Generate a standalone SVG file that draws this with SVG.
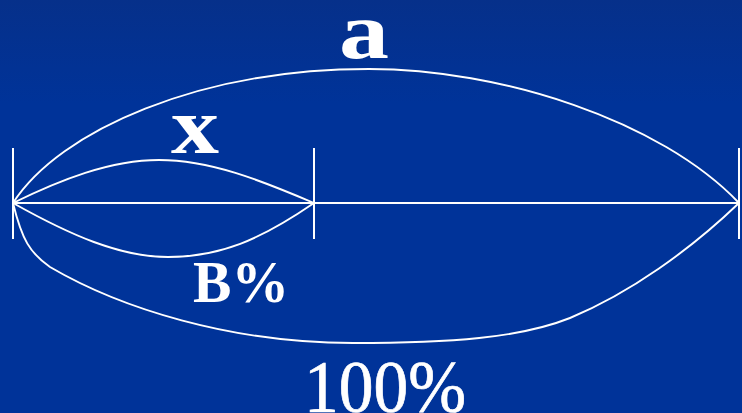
<svg xmlns="http://www.w3.org/2000/svg" width="742" height="413" viewBox="0 0 742 413">
  <defs>
    <linearGradient id="bg" x1="0" y1="0" x2="0" y2="1">
      <stop offset="0" stop-color="#06308a"/>
      <stop offset="0.25" stop-color="#003399"/>
      <stop offset="1" stop-color="#003399"/>
    </linearGradient>
    <style>
      .ln { fill: none; stroke: #ffffff; stroke-width: 1.9; }
      .tk { fill: none; stroke: #ffffff; stroke-width: 2; }
      .lb { fill: #ffffff; font-family: "Liberation Serif", "Times New Roman", serif; text-anchor: middle; }
    </style>
  </defs>
  <rect x="0" y="0" width="742" height="413" fill="url(#bg)"/>
  <g id="connectors">
    <path class="ln" d="M13,203 L739,203"/>
    <path class="ln" d="M13,203 C60,130 200,69 369,69 C500,69 660,120 739,203"/>
    <path class="ln" d="M13,203 C22,240 30,253 50,267 C120,308 230,343 353,343 C450,343 520,338 570,318 C630,293 690,250 739,203"/>
    <path class="ln" d="M13,203 C60,180 110,160 159,160 C210,160 260,180 314,203"/>
    <path class="ln" d="M13,203 C70,235 120,257 168,257 C220,257 260,240 314,203"/>
  </g>
  <g id="ticks">
    <line class="tk" x1="13" y1="148" x2="13" y2="239"/>
    <line class="tk" x1="314" y1="148" x2="314" y2="239"/>
    <line class="tk" x1="739" y1="148" x2="739" y2="239"/>
  </g>
  <g id="label-a"><text class="lb" x="364" y="58" font-size="80" font-weight="bold" textLength="50" lengthAdjust="spacingAndGlyphs">a</text></g>
  <g id="label-x"><text class="lb" x="195" y="153" font-size="80" font-weight="bold" textLength="48" lengthAdjust="spacingAndGlyphs">x</text></g>
  <g id="label-b"><text class="lb" x="241" y="302" font-size="60" font-weight="bold" textLength="96" lengthAdjust="spacingAndGlyphs">B%</text></g>
  <g id="label-100"><text class="lb" x="385" y="412" font-size="74" stroke="#ffffff" stroke-width="0.7" textLength="162" lengthAdjust="spacingAndGlyphs">100%</text></g>
</svg>
